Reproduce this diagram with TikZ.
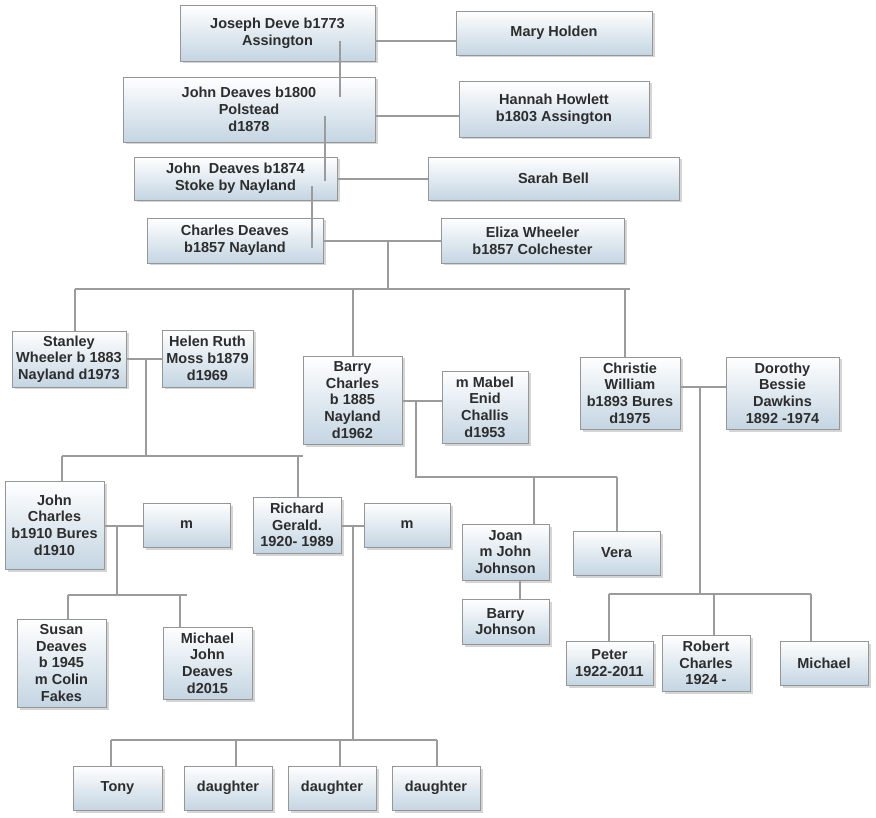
\documentclass[tikz,border=0pt]{standalone}
\usepackage{fontspec}
\setmainfont{Liberation Sans}
\usetikzlibrary{shadows}
\definecolor{boxline}{RGB}{150,150,150}
\definecolor{boxbottom}{RGB}{196,213,226}
\definecolor{linkgray}{RGB}{155,155,155}
\definecolor{txtgray}{RGB}{45,45,45}
\tikzset{person/.style={draw=boxline,line width=0.8pt,top color=white,bottom color=boxbottom,
    align=center,inner sep=1pt,text=txtgray,font=\bfseries\fontsize{14.5}{16.7}\selectfont,
    drop shadow={shadow xshift=2.5pt,shadow yshift=-2.5pt,opacity=0.3,fill=black!55}},
  link/.style={draw=linkgray,line width=1.6pt}}

\begin{document}
\begin{tikzpicture}[x=1pt,y=-1pt]
          \useasboundingbox (0,0) rectangle (876,818);

          % early generations
          \node (joseph) at (277.5,33) [person,minimum width=195pt,minimum height=56pt] {Joseph Deve b1773\\Assington};
          \node (mary) at (554,33) [person,minimum width=196pt,minimum height=44pt] {Mary Holden};
          \node (john) at (249,109.5) [person,minimum width=252pt,minimum height=65pt] {John Deaves b1800\\Polstead\\d1878};
          \node (hannah) at (554,109) [person,minimum width=190pt,minimum height=56pt] {Hannah Howlett\\b1803 Assington};
          \node (johnb) at (235.5,178.5) [person,minimum width=203pt,minimum height=43pt] {John\ \ Deaves b1874\\Stoke by Nayland};
          \node (sarah) at (553.5,178.5) [person,minimum width=251pt,minimum height=43pt] {Sarah Bell};
          \node (charles) at (235,240.5) [person,minimum width=176pt,minimum height=45pt] {Charles Deaves\\b1857 Nayland};
          \node (eliza) at (532.5,240.5) [person,minimum width=183pt,minimum height=45pt] {Eliza Wheeler\\b1857 Colchester};

          % children of Charles
          \node (stanley) at (69,359) [person,minimum width=114pt,minimum height=56pt] {Stanley\\Wheeler b 1883\\Nayland d1973};
          \node (helen) at (207.5,358.5) [person,minimum width=91pt,minimum height=57pt] {Helen Ruth\\Moss b1879\\d1969};
          \node (barry) at (352.5,400) [person,minimum width=99pt,minimum height=88pt] {Barry\\Charles\\b 1885\\Nayland\\d1962};
          \node (mabel) at (485,407) [person,minimum width=86pt,minimum height=72pt] {m Mabel\\Enid\\Challis\\d1953};
          \node (christie) at (630,393) [person,minimum width=100pt,minimum height=72pt] {Christie\\William\\b1893 Bures\\d1975};
          \node (dorothy) at (782.5,393) [person,minimum width=113pt,minimum height=72pt] {Dorothy\\Bessie\\Dawkins\\1892 -1974};

          % grandchildren
          \node (jcharles) at (54.5,525) [person,minimum width=99pt,minimum height=88pt] {John\\Charles\\b1910 Bures\\d1910};
          \node (wifea) at (186.5,525) [person,minimum width=87pt,minimum height=44pt] {m};
          \node (richard) at (297,525) [person,minimum width=88pt,minimum height=56pt] {Richard\\Gerald.\\1920- 1989};
          \node (wifeb) at (407,525) [person,minimum width=86pt,minimum height=44pt] {m};
          \node (joan) at (505.5,552) [person,minimum width=87pt,minimum height=56pt] {Joan\\m John\\Johnson};
          \node (vera) at (616.5,553) [person,minimum width=87pt,minimum height=44pt] {Vera};
          \node (barryj) at (505.5,621.5) [person,minimum width=87pt,minimum height=45pt] {Barry\\Johnson};
          \node (peter) at (609.5,663) [person,minimum width=87pt,minimum height=44pt] {Peter\\1922-2011};
          \node (robert) at (706,663) [person,minimum width=88pt,minimum height=56pt] {Robert\\Charles\\1924 -};
          \node (michael) at (824,663) [person,minimum width=88pt,minimum height=44pt] {Michael};
          \node (susan) at (61.5,663) [person,minimum width=89pt,minimum height=88pt] {Susan\\Deaves\\b 1945\\m Colin\\Fakes};
          \node (mjd) at (207.5,663) [person,minimum width=89pt,minimum height=72pt] {Michael\\John\\Deaves\\d2015};
          \node (tony) at (117.5,788) [person,minimum width=89pt,minimum height=44pt] {Tony};
          \node (dau1) at (228,788) [person,minimum width=88pt,minimum height=44pt] {daughter};
          \node (dau2) at (332,788) [person,minimum width=88pt,minimum height=44pt] {daughter};
          \node (dau3) at (436,788) [person,minimum width=88pt,minimum height=44pt] {daughter};

          % marriages and descent lines
          \coordinate (jm) at (340,41); \coordinate (jmend) at (340,97);
          \draw[link] (jm -| joseph.east) -- (jm -| mary.west);
          \draw[link] (jm) -- (jmend);

          \coordinate (jh) at (325,116); \coordinate (jhend) at (325,181);
          \draw[link] (jh -| john.east) -- (jh -| hannah.west);
          \draw[link] (jh) -- (jhend);

          \coordinate (js) at (312,179); \coordinate (jstop) at (312,186); \coordinate (jsend) at (312,248);
          \draw[link] (js -| johnb.east) -- (js -| sarah.west);
          \draw[link] (jstop) -- (jsend);

          \coordinate (ce) at (388,241); \coordinate (cebar) at (388,289);
          \coordinate (cel) at (75,289); \coordinate (cek) at (353,289); \coordinate (cer) at (625,289); \coordinate (ceend) at (630,289);
          \draw[link] (ce -| charles.east) -- (ce -| eliza.west);
          \draw[link] (ce) -- (cebar);
          \draw[link] (cel) -- (ceend);
          \draw[link] (cel) -- (cel |- stanley.north);
          \draw[link] (cek) -- (cek |- barry.north);
          \draw[link] (cer) -- (cer |- christie.north);

          \coordinate (sh) at (146,359); \coordinate (shbar) at (146,456);
          \coordinate (shl) at (62,456); \coordinate (shk) at (298,456); \coordinate (shr) at (303,456);
          \draw[link] (sh -| stanley.east) -- (sh -| helen.west);
          \draw[link] (sh) -- (shbar);
          \draw[link] (shl) -- (shr);
          \draw[link] (shl) -- (shl |- jcharles.north);
          \draw[link] (shk) -- (shk |- richard.north);

          \coordinate (bm) at (416,401); \coordinate (bmbar) at (416,477);
          \coordinate (bmk) at (534,477); \coordinate (bmr) at (617,477);
          \draw[link] (bm -| barry.east) -- (bm -| mabel.west);
          \draw[link] (bm) -- (bmbar) -- (bmr);
          \draw[link] (bmk) -- (bmk |- joan.north);
          \draw[link] (bmr) -- (bmr |- vera.north);

          \coordinate (jb) at (520,590);
          \draw[link] (jb |- joan.south) -- (jb |- barryj.north);

          \coordinate (cd) at (700,387); \coordinate (cdbar) at (700,594);
          \coordinate (cdl) at (609,594); \coordinate (cdk) at (714,594); \coordinate (cdr) at (811,594);
          \draw[link] (cd -| christie.east) -- (cd -| dorothy.west);
          \draw[link] (cd) -- (cdbar);
          \draw[link] (cdl) -- (cdr);
          \draw[link] (cdl) -- (cdl |- peter.north);
          \draw[link] (cdk) -- (cdk |- robert.north);
          \draw[link] (cdr) -- (cdr |- michael.north);

          \coordinate (jc) at (117,526); \coordinate (jcbar) at (117,595);
          \coordinate (jcl) at (68,595); \coordinate (jck) at (180,595); \coordinate (jcr) at (187,595);
          \draw[link] (jc -| jcharles.east) -- (jc -| wifea.west);
          \draw[link] (jc) -- (jcbar);
          \draw[link] (jcl) -- (jcr);
          \draw[link] (jcl) -- (jcl |- susan.north);
          \draw[link] (jck) -- (jck |- mjd.north);

          \coordinate (rm) at (353,526); \coordinate (rmbar) at (353,740);
          \coordinate (rml) at (111,740); \coordinate (rmk) at (236,740); \coordinate (rmkk) at (340,740); \coordinate (rmr) at (437,740);
          \draw[link] (rm -| richard.east) -- (rm -| wifeb.west);
          \draw[link] (rm) -- (rmbar);
          \draw[link] (rml) -- (rmr);
          \draw[link] (rml) -- (rml |- tony.north);
          \draw[link] (rmk) -- (rmk |- dau1.north);
          \draw[link] (rmkk) -- (rmkk |- dau2.north);
          \draw[link] (rmr) -- (rmr |- dau3.north);
\end{tikzpicture}
\end{document}
